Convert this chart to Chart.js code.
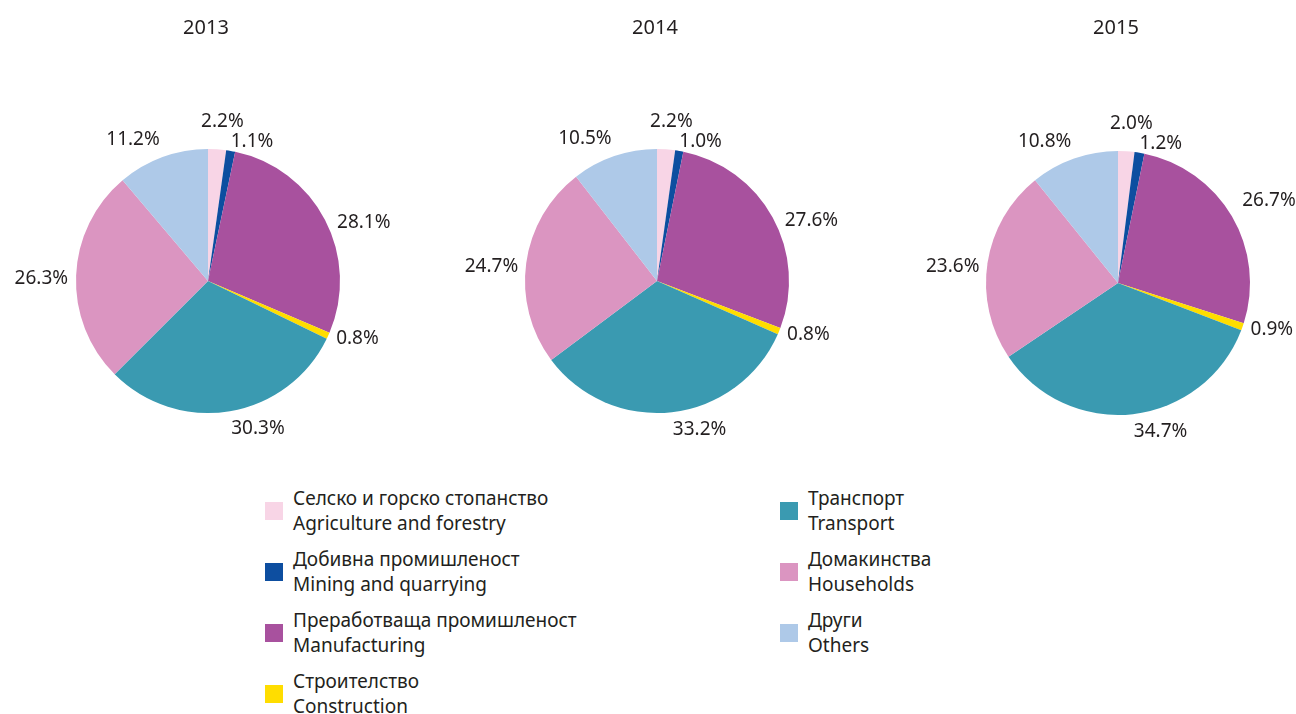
<!DOCTYPE html>
<html>
<head>
<meta charset="utf-8">
<script src="https://cdn.jsdelivr.net/npm/chart.js@4"></script>
<style>
  body { margin: 0; background: #fff; font-family: "Noto Sans", sans-serif; color: #231f20; }
  #wrap { position: relative; width: 1296px; height: 714px; overflow: hidden; }
  canvas { position: absolute; top: 0; }
  .item { position: absolute; font-size: 19px; line-height: 25px; }
  .item .sw { position: absolute; left: 0; top: 16px; width: 18px; height: 18px; }
  .item .tx { position: absolute; left: 28px; top: 0; white-space: nowrap; }
</style>
</head>
<body>
<div id="wrap">
  <canvas id="pie0" width="430" height="460" style="left:0px"></canvas>
  <canvas id="pie1" width="450" height="460" style="left:430px"></canvas>
  <canvas id="pie2" width="416" height="460" style="left:880px"></canvas>
</div>
<script>
// categories (Bulgarian / English)
const labelsBg = ["Селско и горско стопанство", "Добивна промишленост", "Преработваща промишленост", "Строителство", "Транспорт", "Домакинства", "Други"];
const labelsEn = ["Agriculture and forestry", "Mining and quarrying", "Manufacturing", "Construction", "Transport", "Households", "Others"];
const colors = ["#f8d5e6", "#0d4ea0", "#a8519e", "#ffdd00", "#3a9ab1", "#db95c1", "#aec9e8"];

const years = ["2013", "2014", "2015"];
const values2013 = [2.2, 1.1, 28.1, 0.8, 30.3, 26.3, 11.2];
const values2014 = [2.2, 1.0, 27.6, 0.8, 33.2, 24.7, 10.5];
const values2015 = [2.0, 1.2, 26.7, 0.9, 34.7, 23.6, 10.8];
const allValues = [values2013, values2014, values2015];

const textColor = "#231f20";
const fontFamily = "'Noto Sans', sans-serif";

// layout padding per canvas so the pies land where the reference has them
const paddings = [
    { left: 76, right: 90, top: 149, bottom: 47 },
    { left: 95, right: 91, top: 149, bottom: 47 },
    { left: 106, right: 46, top: 151, bottom: 45 }
];
// gap between the pie edge and each slice's label
const labelGaps = [18, 0, 12, 8, 8, 8, 8];

// draws the year title and the percentage labels outside each slice
const outsideLabels = {
    id: 'outsideLabels',
    afterDatasetsDraw(chart) {
        const ctx = chart.ctx;
        const meta = chart.getDatasetMeta(0);
        const vals = chart.data.datasets[0].data;
        ctx.save();
        ctx.fillStyle = textColor;

        // title
        const cx = meta.data[0].x;
        ctx.font = "20px " + fontFamily;
        ctx.textAlign = 'center';
        ctx.textBaseline = 'middle';
        ctx.fillText(chart.options.yearTitle, cx - 2, 28);

        ctx.font = "19px " + fontFamily;
        meta.data.forEach((arc, i) => {
            const mid = (arc.startAngle + arc.endAngle) / 2;
            const s = Math.cos(mid);     // rightwards
            const c = -Math.sin(mid);    // upwards
            const r = arc.outerRadius;
            const gap = labelGaps[i];
            let x, y;
            ctx.textAlign = s > 0.1 ? 'left' : (s < -0.1 ? 'right' : 'center');
            if (Math.abs(c) <= 0.5) {
                // side labels: push sideways, keep level with the edge
                ctx.textBaseline = 'middle';
                x = arc.x + r * s + gap * Math.sign(s);
                y = arc.y - r * c + 3;
            } else {
                ctx.textBaseline = c > 0 ? 'bottom' : 'top';
                x = arc.x + (r + gap) * s;
                y = arc.y - (r + gap) * c;
                if (i === 0) x += 4;
            }
            ctx.fillText(vals[i].toFixed(1) + '%', x, y);
        });
        ctx.restore();
    }
};

allValues.forEach((vals, k) => {
    const ctx = document.getElementById('pie' + k).getContext('2d');
    new Chart(ctx, {
        type: 'pie',
        data: {
            labels: labelsEn,
            datasets: [{
                data: vals,
                backgroundColor: colors,
                borderWidth: 0
            }]
        },
        options: {
            yearTitle: years[k],
            responsive: false,
            animation: false,
            events: [],
            layout: { padding: paddings[k] },
            plugins: {
                legend: { display: false },
                tooltip: { enabled: false }
            }
        },
        plugins: [outsideLabels]
    });
});

// two-column legend below the pies
const wrap = document.getElementById('wrap');
labelsBg.forEach((bg, i) => {
    const col = i < 4 ? 0 : 1;
    const row = i < 4 ? i : i - 4;
    const div = document.createElement('div');
    div.className = 'item';
    div.style.left = (col === 0 ? 265 : 780) + 'px';
    div.style.top = (486 + row * 61) + 'px';
    div.innerHTML = '<div class="sw" style="background:' + colors[i] + '"></div>' +
        '<div class="tx">' + bg + '<br>' + labelsEn[i] + '</div>';
    wrap.appendChild(div);
});
</script>
</body>
</html>
